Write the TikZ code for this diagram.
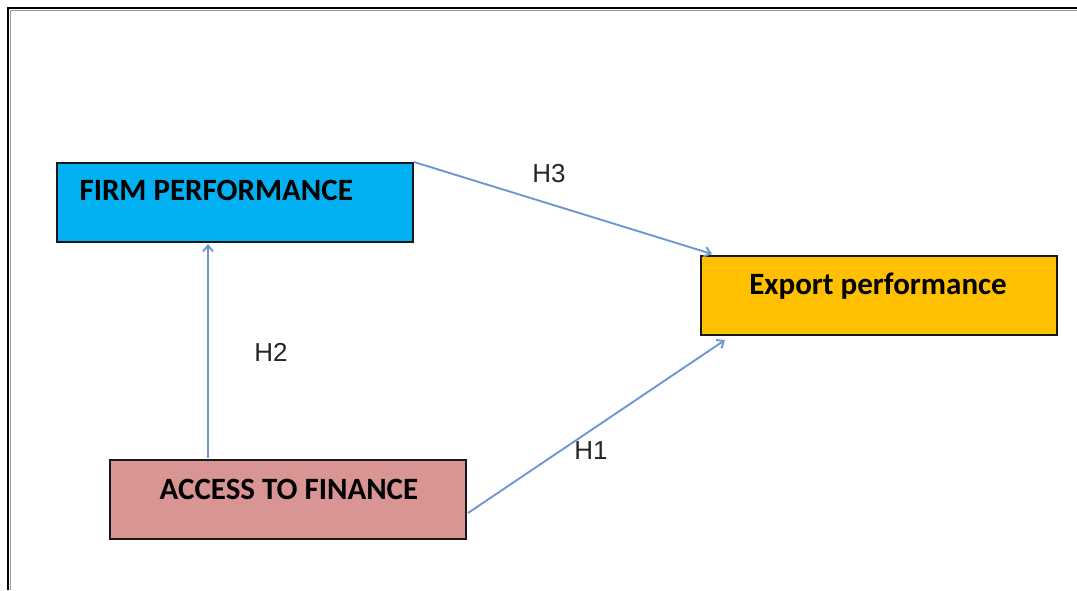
\documentclass[tikz,border=0pt]{standalone}
\usepackage{fontspec}
\setmainfont{Carlito}
\newfontfamily\labfont{Liberation Sans}
\usetikzlibrary{arrows.meta,calc}
\definecolor{firmblue}{HTML}{00B0F0}
\definecolor{exportgold}{HTML}{FFC000}
\definecolor{accesspink}{HTML}{D99594}
\definecolor{arrowblue}{HTML}{6F97CF}
\tikzset{
  boxstyle/.style={draw=black!90, line width=2pt, minimum width=356pt, minimum height=79pt, inner sep=0pt},
  boxtext/.style={font=\fontsize{31}{34}\selectfont\bfseries, text=black},
  conn/.style={draw=arrowblue, line width=1.9pt, -{Straight Barb[length=6pt,width=10pt]}},
  hyp/.style={font=\labfont\fontsize{26}{30}\selectfont, text=black!85}
}
\begin{document}
\begin{tikzpicture}[x=1pt,y=-1pt]
\useasboundingbox (0,0) rectangle (1077,590);
\draw[line width=2.2pt, black] (8,590) -- (8,8) -- (1077,8);
\draw[line width=1pt, black!40] (10.5,590) -- (10.5,10.5) -- (1077,10.5);

\node[boxstyle, fill=firmblue, anchor=north west] (firm) at (56,162) {};
\node[boxtext, anchor=west] (firmt) at (76,190) {FIRM PERFORMANCE};
\node[boxstyle, fill=exportgold, anchor=north west] (exp) at (700,255) {};
\node[boxtext] (expt) at (878,286) {Export performance};
\node[boxstyle, fill=accesspink, anchor=north west] (acc) at (109,459) {};
\node[boxtext] (acct) at (289,489) {ACCESS TO FINANCE};

\draw[conn] (firm.north east) -- ($(exp.north west)+(12,-1)$);
\draw[conn] ($(acc.north west)+(99,-1)$) -- ($(firm.south west)+(152,1)$);
\draw[conn] ($(acc.south east)+(1,-27)$) -- ($(exp.south west)+(25,4)$);

\node[hyp] (l3) at (549,174) {H3};
\node[hyp] (l2) at (271,352) {H2};
\node[hyp] (l1) at (591,451) {H1};
\end{tikzpicture}
\end{document}
